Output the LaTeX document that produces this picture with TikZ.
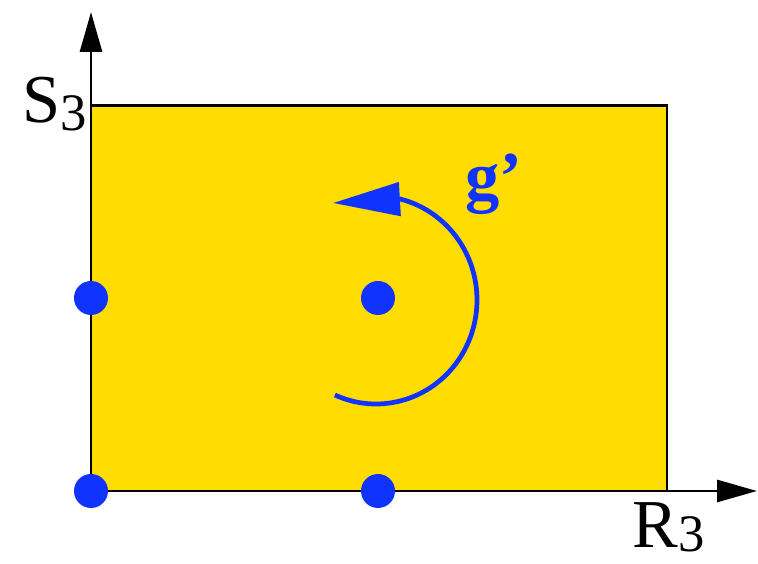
\documentclass[tikz,border=0pt]{standalone}
\usepackage{fontspec}
\setmainfont{Liberation Serif}
\usetikzlibrary{arrows.meta}
\definecolor{gold}{RGB}{255,221,0}
\definecolor{dotblue}{RGB}{17,51,255}
\newcommand{\sublab}[3][-4pt]{#2\raisebox{#1}{\fontsize{30}{30}\selectfont #3}}
\begin{document}
\begin{tikzpicture}[
  x=0.02cm, y=0.02cm,
  every node/.style={font=\fontsize{39}{40}\selectfont, inner sep=0pt},
  axis/.style={line width=1.6pt, -{Triangle[length=0.8cm, width=0.44cm]}},
  region/.style={draw, line width=1.7pt, fill=gold},
  pt/.style={circle, fill=dotblue, minimum size=0.68cm},
  rot/.style={dotblue, line width=2.7pt, -{Triangle[length=1.34cm, width=0.66cm]}}
]
  \useasboundingbox (0,0) rectangle (758,564);

  % Square of states
  \coordinate (origin) at (91,73);
  \coordinate (corner) at (667,458);
  \draw[region] (origin) rectangle (corner);

  % Axes
  \coordinate (xend) at (757,73);
  \coordinate (yend) at (91,552);
  \draw[axis] (origin) -- (xend);
  \draw[axis] (origin) -- (yend);
  \node[anchor=base west] (rlab) at (632,16) {\sublab[-2pt]{R}{3}};
  \node[anchor=base west] (slab) at (22,441) {\sublab{S}{3}};

  % Fixed points
  \node[pt] (p00) at (origin) {};
  \node[pt] (p10) at (378,73) {};
  \node[pt] (p01) at (91,266) {};
  \node[pt] (p11) at (378,266) {};

  % Rotation g'
  \coordinate (gtip) at (333,361);
  \draw[rot] ([shift={(-114:101 and 104)}]376,264)
    arc[start angle=-114, end angle=76, x radius=101, y radius=104] -- (gtip);
  \node[anchor=base west, text=dotblue, font=\fontsize{39}{40}\selectfont\bfseries]
    (glab) at (465,364) {g’};
\end{tikzpicture}
\end{document}
